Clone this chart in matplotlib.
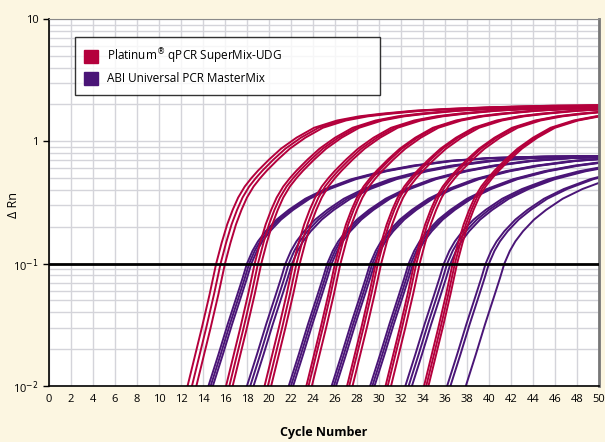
import numpy as np
import matplotlib
matplotlib.use("Agg")
import matplotlib.pyplot as plt
from matplotlib.patches import Patch

# amplification profile: cycles relative to the
# threshold crossing (0.1) and the delta Rn at that point
red_offsets = [-2.6, -2.0, -1.3, -0.6, 0.0, 0.5, 1.0, 1.5, 2.0, 2.6, 3.2, 3.8,
               4.8, 5.9, 7.3, 8.9, 11.0, 13.0, 15.0, 18.0, 21.0, 25.0, 30.0, 36.0]
red_values = [0.010, 0.0166, 0.030, 0.056, 0.100, 0.148, 0.209, 0.275, 0.347, 0.427, 0.50, 0.575,
              0.708, 0.871, 1.07, 1.29, 1.48, 1.60, 1.68, 1.78, 1.84, 1.90, 1.95, 1.97]
purple_offsets = [-3.5, -2.6, -1.75, -0.9, -0.4, 0.0, 0.5, 1.0, 1.7, 2.7, 3.8, 5.3, 7.1, 9.5,
                  12.3, 15.0, 18.4, 22.0, 27.0, 33.0]
purple_values = [0.010, 0.018, 0.032, 0.055, 0.076, 0.100, 0.127, 0.152, 0.184, 0.229, 0.275, 0.339,
                 0.407, 0.490, 0.569, 0.631, 0.692, 0.730, 0.750, 0.760]

# threshold cycles (Ct) of every well
red_ct = [15.2, 15.6, 16.0, 18.7, 19.0, 19.3, 22.2, 22.5, 22.8, 26.0, 26.2, 26.5,
          29.7, 29.9, 30.2, 33.2, 33.4, 33.7, 36.7, 36.9, 37.1]
purple_ct = [18.0, 18.2, 18.4, 21.5, 21.8, 22.1, 25.3, 25.5, 25.7, 29.2, 29.4, 29.6,
             32.7, 32.9, 33.1, 35.9, 36.2, 36.5, 39.7, 40.0, 41.4]

labels = ["Platinum$^{\u00ae}$ qPCR SuperMix-UDG", "ABI Universal PCR MasterMix"]
threshold = 0.1

red = "#b4003c"
purple = "#4a1577"
bg = "#fcf6e1"

plt.rcParams['font.family'] = ['Open Sans', 'DejaVu Sans']

fig = plt.figure(figsize=(6.05, 4.42), dpi=100, facecolor=bg)
ax = fig.add_axes([0.081, 0.127, 0.909, 0.830])
ax.set_facecolor("white")

for ct in purple_ct:
    ax.plot(np.array(purple_offsets) + ct, purple_values, color=purple, lw=1.4)
for ct in red_ct:
    ax.plot(np.array(red_offsets) + ct, red_values, color=red, lw=1.4)

ax.axhline(threshold, color="black", lw=2, zorder=5)

ax.set_yscale("log")
ax.set_xlim(0, 50)
ax.set_ylim(0.01, 10)
ax.set_xticks(range(0, 51, 2))
ax.set_yticks([0.01, 0.1, 1, 10])
ax.set_yticklabels(["10$^{-2}$", "10$^{-1}$", "1", "10"])
ax.tick_params(axis="both", labelsize=8, colors="black")
ax.tick_params(axis="x", length=0, pad=6)
ax.tick_params(axis="y", which="major", length=4, width=1)
ax.tick_params(axis="y", which="minor", length=0)
ax.grid(True, which="both", color="#d4d4da", lw=1)
ax.set_axisbelow(True)

for side in ["left", "bottom"]:
    ax.spines[side].set_color("black")
    ax.spines[side].set_linewidth(1.2)
ax.spines["top"].set_color("#8a8a8a")
ax.spines["right"].set_color("#777777")
ax.spines["right"].set_linewidth(2)

ax.set_ylabel("\u0394 Rn", fontsize=9)
ax.yaxis.set_label_coords(-0.052, 0.493)
ax.set_xlabel("Cycle Number", fontsize=9, fontweight="bold", labelpad=15)

handles = [Patch(facecolor=red, edgecolor=red), Patch(facecolor=purple, edgecolor=purple)]
leg = ax.legend(handles, labels, loc="upper left", bbox_to_anchor=(0.047, 0.951, 0.555, 0.0),
                mode="expand", fontsize=8.5, frameon=True, fancybox=False,
                handlelength=1.15, handleheight=1.3, handletextpad=0.8,
                borderpad=0.8, labelspacing=0.5, borderaxespad=0)
leg.get_frame().set_edgecolor("black")
leg.get_frame().set_linewidth(1)

fig.savefig("out.png", dpi=100, facecolor=bg)
